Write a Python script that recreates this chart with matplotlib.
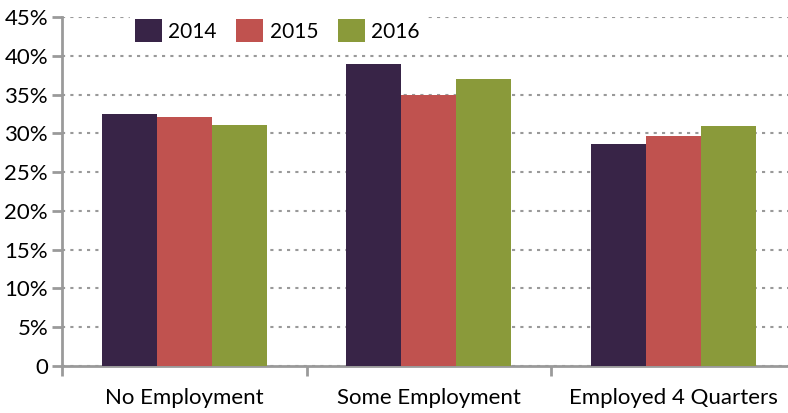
import matplotlib.pyplot as plt
import numpy as np
from matplotlib.ticker import FixedLocator

categories = ['No Employment', 'Some Employment', 'Employed 4 Quarters']
years = ['2014', '2015', '2016']
vals_2014 = [32.5, 38.9, 28.6]
vals_2015 = [32.1, 35.0, 29.7]
vals_2016 = [31.1, 37.0, 31.0]
ytick_vals = [0, 5, 10, 15, 20, 25, 30, 35, 40, 45]
ytick_labels = ['0', '5%', '10%', '15%', '20%', '25%', '30%', '35%', '40%', '45%']

colors = ['#382447', '#C0524F', '#8A9A3A']

plt.rcParams['font.family'] = ['Lato', 'DejaVu Sans']

fig = plt.figure(figsize=(7.88, 4.13), dpi=100)
ax = fig.add_axes([62/788, 1 - 366/413, 1 - 62/788, (366 - 17)/413])

x = np.arange(len(categories))
w = 0.225
for i, (vals, yr) in enumerate(zip([vals_2014, vals_2015, vals_2016], years)):
    ax.bar(x + (i - 1) * w, vals, width=w, color=colors[i], label=yr, zorder=3)

ax.set_ylim(0, 45)
ax.set_xlim(-0.5, 2.469)
ax.set_yticks(ytick_vals)
ax.set_yticklabels(ytick_labels, fontsize=16)

# category labels centered, ticks at boundaries
ax.set_xticks(x)
ax.set_xticklabels(categories, fontsize=16)
ax.tick_params(axis='x', which='major', length=0, pad=16)
ax.xaxis.set_minor_locator(FixedLocator([-0.5, 0.5, 1.5, 2.5]))
ax.tick_params(axis='x', which='minor', length=7, width=2, color='#9a9a9a')
ax.tick_params(axis='y', length=7, width=2, color='#9a9a9a', pad=3)

ax.yaxis.grid(True, linestyle=(0, (1.5, 2.5)), color='#999999', linewidth=1.5, zorder=0)
for s in ['top', 'right']:
    ax.spines[s].set_visible(False)
ax.spines['left'].set_color('#9a9a9a')
ax.spines['left'].set_linewidth(2)
ax.spines['bottom'].set_color('#9a9a9a')
ax.spines['bottom'].set_linewidth(2)

leg = ax.legend(loc='upper left', bbox_to_anchor=(0.08, 1.035), ncol=3, frameon=True,
                fontsize=15, handlelength=1.3, handleheight=1.3, columnspacing=0.95,
                handletextpad=0.3, borderpad=0.2)
leg.get_frame().set_edgecolor('white')
leg.get_frame().set_facecolor('white')
leg.get_frame().set_alpha(1)
leg.get_frame().set_boxstyle('square', pad=0)

fig.savefig('out.png', dpi=100)
